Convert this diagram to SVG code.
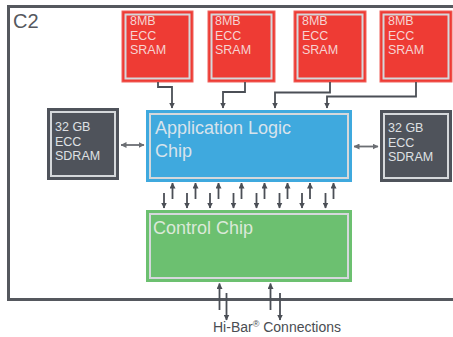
<svg xmlns="http://www.w3.org/2000/svg" width="453" height="337" viewBox="0 0 453 337">
  <defs>
    <marker id="arr" markerUnits="userSpaceOnUse" markerWidth="6" markerHeight="6" refX="5.5" refY="3" orient="auto-start-reverse">
      <path d="M0,0 L6,3 L0,6 z" fill="#4b4f56"/>
    </marker>
    <marker id="arrLight" markerUnits="userSpaceOnUse" markerWidth="6" markerHeight="6" refX="5.5" refY="3" orient="auto-start-reverse">
      <path d="M0,0 L6,3 L0,6 z" fill="#6b6e73"/>
    </marker>
  </defs>
  <style>
    .frame { fill: none; stroke: #55585e; stroke-width: 3; }
    .inner { fill: none; stroke: #d5d8db; stroke-width: 2; }
    .sram { fill: #ee3b34; stroke: #f0625c; stroke-width: 1; }
    .sdram { fill: #4f535b; }
    .app { fill: #3fa9de; }
    .ctrl { fill: #6cc070; }
    .small { font-family: "Liberation Sans", Arial, sans-serif; font-size: 12.5px; }
    .big { font-family: "Liberation Sans", Arial, sans-serif; font-size: 18px; }
    .wire { fill: none; stroke: #4b4f56; stroke-width: 1.8; }
    .bus { fill: none; stroke: #4b4f56; stroke-width: 1.8; marker-end: url(#arr); }
    .dbl { fill: none; stroke: #6b6e73; stroke-width: 1.8; marker-start: url(#arrLight); marker-end: url(#arrLight); }
  </style>

  <!-- enclosure, open on the right -->
  <path class="frame" d="M453,6.5 H8.5 V299.5 H453"/>
  <text x="13" y="28" font-family="Liberation Sans, Arial, sans-serif" font-size="20" fill="#55585e">C2</text>

  <!-- SRAM banks -->
  <g id="sram1">
    <rect class="sram" x="122" y="11" width="71" height="71"/>
    <rect class="inner" x="125.5" y="14.5" width="64" height="64"/>
    <text class="small" fill="#f6d3d2"><tspan x="130" y="25">8MB</tspan><tspan x="130" y="40">ECC</tspan><tspan x="130" y="54">SRAM</tspan></text>
  </g>
  <g id="sram2">
    <rect class="sram" x="208" y="11" width="67" height="71"/>
    <rect class="inner" x="211.5" y="14.5" width="60" height="64"/>
    <text class="small" fill="#f6d3d2"><tspan x="215" y="25">8MB</tspan><tspan x="215" y="40">ECC</tspan><tspan x="215" y="54">SRAM</tspan></text>
  </g>
  <g id="sram3">
    <rect class="sram" x="294" y="11" width="72" height="71"/>
    <rect class="inner" x="297.5" y="14.5" width="65" height="64"/>
    <text class="small" fill="#f6d3d2"><tspan x="302" y="25">8MB</tspan><tspan x="302" y="40">ECC</tspan><tspan x="302" y="54">SRAM</tspan></text>
  </g>
  <g id="sram4">
    <rect class="sram" x="380" y="11" width="72" height="71"/>
    <rect class="inner" x="383.5" y="14.5" width="65" height="64"/>
    <text class="small" fill="#f6d3d2"><tspan x="388" y="25">8MB</tspan><tspan x="388" y="40">ECC</tspan><tspan x="388" y="54">SRAM</tspan></text>
  </g>

  <!-- SDRAM banks -->
  <g id="sdram-left">
    <rect class="sdram" x="47" y="108" width="72" height="72"/>
    <rect class="inner" x="51" y="112" width="64" height="64"/>
    <text class="small" fill="#dfe1e4"><tspan x="55" y="131">32 GB</tspan><tspan x="55" y="146">ECC</tspan><tspan x="55" y="160">SDRAM</tspan></text>
  </g>
  <g id="sdram-right">
    <rect class="sdram" x="380" y="110" width="72" height="72"/>
    <rect class="inner" x="384" y="114" width="64" height="64"/>
    <text class="small" fill="#dfe1e4"><tspan x="388" y="132">32 GB</tspan><tspan x="388" y="147">ECC</tspan><tspan x="388" y="161">SDRAM</tspan></text>
  </g>

  <!-- chips -->
  <g id="app-logic">
    <rect class="app" x="146" y="110" width="206" height="72"/>
    <rect class="inner" x="150" y="114" width="198" height="64"/>
    <text class="big" fill="#d7e3ec"><tspan x="155" y="134">Application Logic</tspan><tspan x="155" y="157">Chip</tspan></text>
  </g>
  <g id="control">
    <rect class="ctrl" x="146" y="210" width="206" height="72"/>
    <rect class="inner" x="150" y="214" width="198" height="64"/>
    <text class="big" fill="#dbe9d9" x="153" y="234">Control Chip</text>
  </g>

  <!-- connectors -->
  <g id="connectors">
    <path class="bus" d="M158,82 V87 H172 V108"/>
    <path class="bus" d="M245,82 V92 H223 V108"/>
    <path class="bus" d="M330,82 V92.5 H275 V108"/>
    <path class="bus" d="M416,82 V96.5 H327 V108"/>

    <path class="dbl" d="M121,145 H144"/>
    <path class="dbl" d="M354,146.5 H378"/>

    <!-- chip-to-chip lanes -->
    <path class="bus" d="M164,193 V208"/>
    <path class="bus" d="M172.5,199 V183"/>
    <path class="bus" d="M187,193 V208"/>
    <path class="bus" d="M195.5,199 V183"/>
    <path class="bus" d="M210,193 V208"/>
    <path class="bus" d="M218.5,199 V183"/>
    <path class="bus" d="M233.5,193 V208"/>
    <path class="bus" d="M241.5,199 V183"/>
    <path class="bus" d="M256.5,193 V208"/>
    <path class="bus" d="M264.5,199 V183"/>
    <path class="bus" d="M279.5,193 V208"/>
    <path class="bus" d="M287.5,199 V183"/>
    <path class="bus" d="M302,193 V208"/>
    <path class="bus" d="M310,199 V183"/>
    <path class="bus" d="M325.5,193 V208"/>
    <path class="bus" d="M333.5,199 V183"/>

    <!-- Hi-Bar links -->
    <path class="bus" d="M219.5,310 V283.5"/>
    <path class="bus" d="M226.5,293 V320"/>
    <path class="bus" d="M270.5,310 V283.5"/>
    <path class="bus" d="M280,293 V320"/>
  </g>

  <text x="213" y="332" font-family="Liberation Sans, Arial, sans-serif" font-size="14" fill="#4a4d52">Hi-Bar<tspan font-size="9" dy="-5">®</tspan><tspan dy="5"> Connections</tspan></text>
</svg>
